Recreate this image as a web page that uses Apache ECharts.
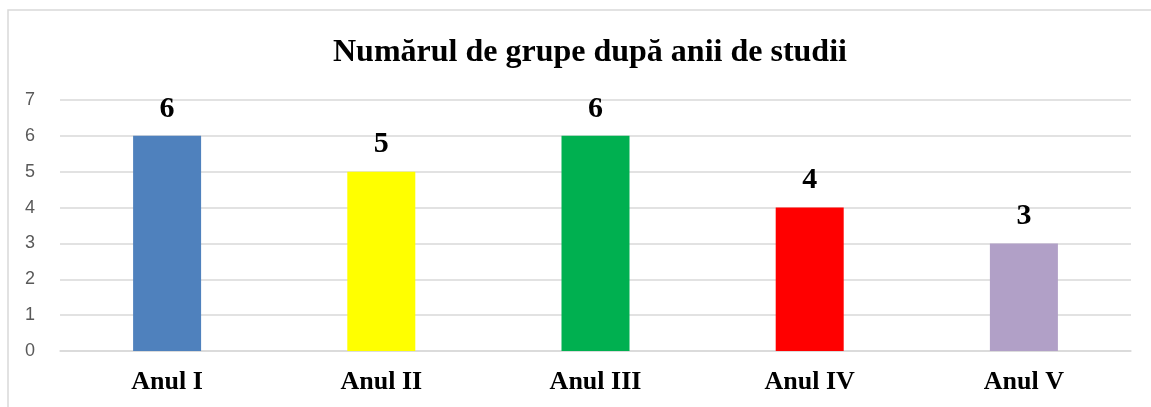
<!DOCTYPE html>
<html>
<head>
<meta charset="utf-8">
<script src="https://cdn.jsdelivr.net/npm/echarts@6/dist/echarts.min.js"></script>
<style>
  html, body { margin: 0; padding: 0; background: #fff; }
  #chart { width: 1151px; height: 407px; }
</style>
</head>
<body>
<div id="chart"></div>
<script>
const categories = ['Anul I', 'Anul II', 'Anul III', 'Anul IV', 'Anul V']
const groups = [6, 5, 6, 4, 3]
const barColors = ['#4F81BD', '#FFFF00', '#00B050', '#FF0000', '#B1A0C7']

const chart = echarts.init(document.getElementById('chart'))

const serif = '"Liberation Serif", "Times New Roman", serif'

chart.setOption({
  animation: false,
  backgroundColor: '#fff',
  title: {
    text: 'Numărul de grupe după anii de studii',
    left: 328,
    top: 32,
    textStyle: {
      fontFamily: serif,
      fontSize: 32,
      fontWeight: 'bold',
      color: '#000'
    }
  },
  // chart area border (Excel-style), runs off right/bottom edge
  graphic: [{
    type: 'rect',
    shape: { x: 8, y: 10, width: 1160, height: 420 },
    style: { fill: 'none', stroke: '#D9D9D9', lineWidth: 1.5 },
    silent: true
  }],
  grid: {
    left: 60,
    right: 20,
    top: 100,
    bottom: 56
  },
  xAxis: {
    type: 'category',
    data: categories,
    axisTick: { show: false },
    axisLine: { lineStyle: { color: '#D9D9D9', width: 1.5 } },
    axisLabel: {
      margin: 18,
      fontFamily: serif,
      fontSize: 26,
      fontWeight: 'bold',
      color: '#000'
    }
  },
  yAxis: {
    type: 'value',
    min: 0,
    max: 7,
    interval: 1,
    axisLine: { show: false },
    axisTick: { show: false },
    axisLabel: {
      margin: 25,
      fontFamily: '"Liberation Sans", Arial, sans-serif',
      fontSize: 18,
      color: '#595959'
    },
    splitLine: { lineStyle: { color: '#D9D9D9', width: 1.5 } }
  },
  series: [{
    type: 'bar',
    data: groups.map((v, i) => ({ value: v, itemStyle: { color: barColors[i] } })),
    barWidth: 68,
    label: {
      show: true,
      position: 'top',
      distance: 12,
      fontFamily: serif,
      fontSize: 30,
      fontWeight: 'bold',
      color: '#000'
    }
  }]
})
</script>
</body>
</html>
